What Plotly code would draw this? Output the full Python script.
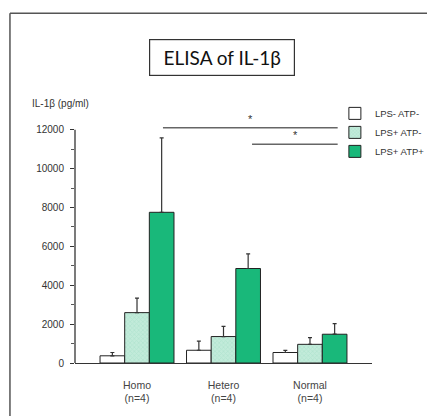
import plotly.graph_objects as go

groups = ["Homo<br>(n=4)", "Hetero<br>(n=4)", "Normal<br>(n=4)"]
series_names = ["LPS- ATP-", "LPS+ ATP-", "LPS+ ATP+"]
lps_neg_atp_neg = [370, 655, 540]
lps_pos_atp_neg = [2590, 1360, 960]
lps_pos_atp_pos = [7750, 4860, 1480]
err_neg_neg = [170, 470, 110]
err_pos_neg = [750, 520, 350]
err_pos_pos = [3830, 750, 540]
y_ticks = [0, 2000, 4000, 6000, 8000, 10000, 12000]
y_tick_labels = ["0", "2000", "4000", "6000", "8000", "10000", "12000"]

fig = go.Figure()
common_line = dict(color="#222222", width=1)
err_style = dict(type="data", symmetric=False, color="#333333", thickness=1.2, width=2)

fig.add_trace(go.Bar(
    x=groups, y=lps_neg_atp_neg, name=series_names[0],
    marker=dict(color="#ffffff", line=common_line),
    error_y=dict(array=err_neg_neg, arrayminus=[0, 0, 0], **err_style),
))
fig.add_trace(go.Bar(
    x=groups, y=lps_pos_atp_neg, name=series_names[1],
    marker=dict(color="#b4e6d1", line=common_line,
                pattern=dict(shape="x", fgcolor="#9fdcc3", bgcolor="#c2ebda", size=3, solidity=0.4)),
    error_y=dict(array=err_pos_neg, arrayminus=[0, 0, 0], **err_style),
))
fig.add_trace(go.Bar(
    x=groups, y=lps_pos_atp_pos, name=series_names[2],
    marker=dict(color="#19b87a", line=common_line),
    error_y=dict(array=err_pos_pos, arrayminus=[0, 0, 0], **err_style),
))

shapes = []
# y axis line from 0 to 12000
shapes.append(dict(type="line", xref="paper", yref="y", x0=0, x1=0, y0=0, y1=12000,
                   line=dict(color="#333333", width=1.3)))
# significance lines
shapes.append(dict(type="line", xref="x", yref="y", x0=0.30, x1=2.32, y0=12100, y1=12100,
                   line=dict(color="#666666", width=1.5)))
shapes.append(dict(type="line", xref="x", yref="y", x0=1.33, x1=2.32, y0=11250, y1=11250,
                   line=dict(color="#666666", width=1.5)))
# outer frame
shapes.append(dict(type="line", xref="paper", yref="paper", x0=-0.219, x1=-0.219, y0=-0.3, y1=1.428,
                   line=dict(color="#555555", width=1.5)))
shapes.append(dict(type="line", xref="paper", yref="paper", x0=-0.219, x1=1.4, y0=1.428, y1=1.428,
                   line=dict(color="#555555", width=1.5)))

annotations = [
    dict(text="ELISA of IL-1β", xref="paper", yref="paper", x=0.4966, y=1.248,
         xanchor="center", yanchor="middle", showarrow=False,
         font=dict(family="Lato, Open Sans, Arial", size=19, color="#111111"),
         bordercolor="#333333", borderwidth=1.2, borderpad=0, width=144, height=35),
    dict(text="IL-1β (pg/ml)", xref="paper", yref="paper", x=-0.152, y=1.06,
         xanchor="left", yanchor="middle", showarrow=False,
         font=dict(family="Arial", size=10, color="#333333")),
    dict(text="*", xref="x", yref="y", x=1.31, y=12150, xanchor="center", yanchor="bottom",
         showarrow=False, font=dict(family="Arial", size=11, color="#333333")),
    dict(text="*", xref="x", yref="y", x=1.83, y=11300, xanchor="center", yanchor="bottom",
         showarrow=False, font=dict(family="Arial", size=11, color="#333333")),
]

fig.update_layout(
    width=470, height=416,
    margin=dict(l=75, r=98, t=118, b=48),
    paper_bgcolor="white", plot_bgcolor="white",
    barmode="group", bargap=0.145, bargroupgap=0,
    showlegend=True,
    legend=dict(x=0.875, y=1.078, xanchor="left", yanchor="top",
                font=dict(family="Arial", size=9.5, color="#333333"),
                bgcolor="rgba(0,0,0,0)", itemwidth=30, tracegroupgap=0),
    shapes=shapes, annotations=annotations,
    font=dict(family="Arial", color="#333333"),
)
fig.update_xaxes(range=[-0.717, 2.717], showline=True, linecolor="#333333", linewidth=1.3,
                 ticks="", showgrid=False, zeroline=False,
                 tickfont=dict(family="Arial", size=10.5, color="#444444"), ticklabelstandoff=12)
fig.update_yaxes(range=[0, 12600], tickvals=y_ticks, ticktext=y_tick_labels,
                 showline=False, showgrid=False, zeroline=False,
                 ticks="outside", ticklen=4, tickcolor="#333333", tickwidth=1,
                 minor=dict(dtick=1000, tick0=0, ticks="outside", ticklen=3, tickcolor="#555555"),
                 tickfont=dict(family="Arial", size=10, color="#333333"), ticklabelstandoff=4)

fig.write_html("out.html", config={"displayModeBar": False},
               post_script="document.body.style.margin='0';document.body.style.overflow='hidden';")
